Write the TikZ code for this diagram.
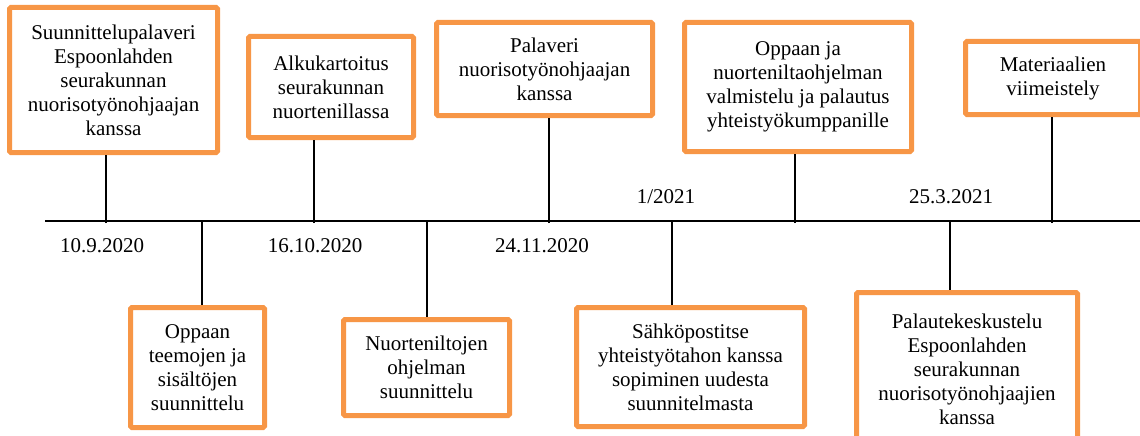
\documentclass[tikz,border=0pt]{standalone}
\usepackage{fontspec}
\setmainfont{Liberation Serif}
\definecolor{boxorange}{RGB}{247,150,70}
\begin{document}
\begin{tikzpicture}[x=1pt,y=-1pt,
  evbox/.style={draw=boxorange, line width=5pt, rounded corners=1.5pt, fill=white,
    align=center, inner sep=0pt, font=\fontsize{21}{24}\selectfont},
  datelbl/.style={inner sep=0pt, font=\fontsize{21}{24}\selectfont},
  conn/.style={line width=1.8pt, black}]
\useasboundingbox (0,0) rectangle (1140,436);
% timeline
\coordinate (L) at (45,221);
\coordinate (R) at (1140,221);
\draw[conn] (L) -- (R);
% upper boxes
\node[evbox, minimum width=208, minimum height=145] (b1) at (113.5,80) {Suunnittelupalaveri\\Espoonlahden\\seurakunnan\\nuorisotyönohjaajan\\kanssa};
\node[evbox, minimum width=165, minimum height=101] (b2) at (331,87) {Alkukartoitus\\seurakunnan\\nuortenillassa};
\node[evbox, minimum width=216, minimum height=93] (b3) at (544.5,69) {Palaveri\\nuorisotyönohjaajan\\kanssa};
\node[evbox, minimum width=227, minimum height=129] (b4) at (798,87) {Oppaan ja\\nuorteniltaohjelman\\valmistelu ja palautus\\yhteistyökumppanille};
\node[evbox, minimum width=175, minimum height=73] (b5) at (1053,78) {Materiaalien\\viimeistely};
% lower boxes
\node[evbox, minimum width=134, minimum height=120] (b6) at (197.5,367.5) {Oppaan\\teemojen ja\\sisältöjen\\suunnittelu};
\node[evbox, minimum width=166, minimum height=96] (b7) at (426.5,367.5) {Nuorteniltojen\\ohjelman\\suunnittelu};
\node[evbox, minimum width=228, minimum height=119] (b8) at (690.5,367) {Sähköpostitse\\yhteistyötahon kanssa\\sopiminen uudesta\\suunnitelmasta};
\node[evbox, minimum width=221, minimum height=153] (b9) at (967,369) {Palautekeskustelu\\Espoonlahden\\seurakunnan\\nuorisotyönohjaajien\\kanssa};
% stem anchor points on the timeline
\coordinate (t1) at (106,223);
\coordinate (t2) at (314,223);
\coordinate (t3) at (549,223);
\coordinate (t4) at (795,223);
\coordinate (t5) at (1052,223);
\coordinate (t6) at (202,221);
\coordinate (t7) at (427,221);
\coordinate (t8) at (672,221);
\coordinate (t9) at (950,221);
\draw[conn] (t1) -- (t1 |- b1.south);
\draw[conn] (t2) -- (t2 |- b2.south);
\draw[conn] (t3) -- (t3 |- b3.south);
\draw[conn] (t4) -- (t4 |- b4.south);
\draw[conn] (t5) -- (t5 |- b5.south);
\draw[conn] (t6) -- (t6 |- b6.north);
\draw[conn] (t7) -- (t7 |- b7.north);
\draw[conn] (t8) -- (t8 |- b8.north);
\draw[conn] (t9) -- (t9 |- b9.north);
% dates
\node[datelbl] (d1) at (102,246) {10.9.2020};
\node[datelbl] (d2) at (315,246) {16.10.2020};
\node[datelbl] (d3) at (542,246) {24.11.2020};
\node[datelbl] (d4) at (666,197) {1/2021};
\node[datelbl] (d5) at (951,197) {25.3.2021};
\end{tikzpicture}
\end{document}
